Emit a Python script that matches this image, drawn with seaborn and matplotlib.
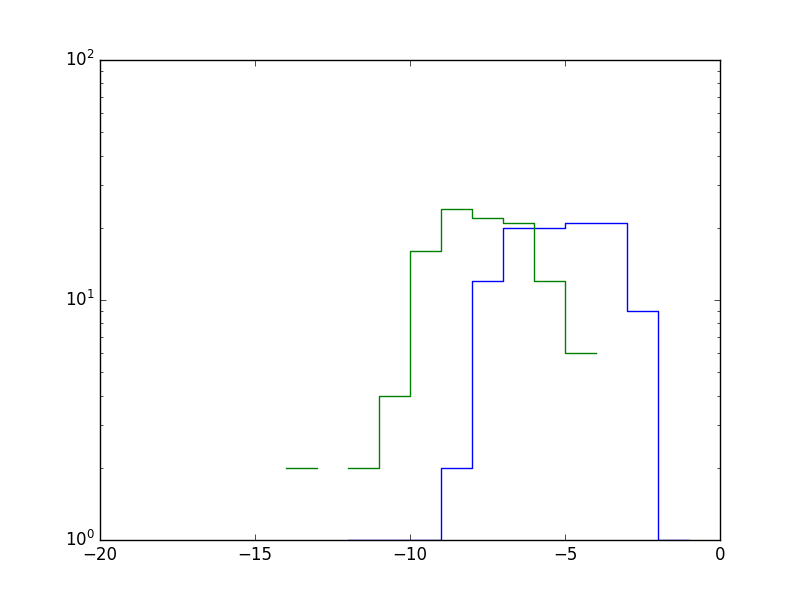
import numpy as np
import matplotlib
matplotlib.use("Agg")
import matplotlib.pyplot as plt
import seaborn as sns

# blue histogram: unit bins from -12 to -1
blue_edges = [-12, -11, -10, -9, -8, -7, -6, -5, -4, -3, -2, -1]
blue_counts = [1, 1, 1, 2, 12, 20, 20, 21, 21, 9, 1]

# green histogram: two pieces (empty bin -13..-12 leaves a gap)
green_edges_a = [-14, -13]
green_counts_a = [2]
green_edges_b = [-12, -11, -10, -9, -8, -7, -6, -5, -4]
green_counts_b = [2, 4, 16, 24, 22, 21, 12, 6]

plt.style.use("classic")

fig, ax = plt.subplots(figsize=(8, 6), dpi=100)
fig.patch.set_facecolor("white")


def centers(edges):
    e = np.asarray(edges, dtype=float)
    return (e[:-1] + e[1:]) / 2


sns.histplot(x=centers(blue_edges), weights=blue_counts, bins=blue_edges,
             element="step", fill=False, color="b", linewidth=1.0, ax=ax)
sns.histplot(x=centers(green_edges_a), weights=green_counts_a, bins=green_edges_a,
             element="step", fill=False, color="g", linewidth=1.0, ax=ax)
sns.histplot(x=centers(green_edges_b), weights=green_counts_b, bins=green_edges_b,
             element="step", fill=False, color="g", linewidth=1.0, ax=ax)

ax.set_yscale("log")
ax.set_xlim(-20, 0)
ax.set_ylim(1, 100)
ax.set_xticks([-20, -15, -10, -5, 0])
ax.set_xlabel("")
ax.set_ylabel("")

fig.subplots_adjust(left=0.125, right=0.9, bottom=0.1, top=0.9)
fig.savefig("out.png", dpi=100, facecolor="white")
